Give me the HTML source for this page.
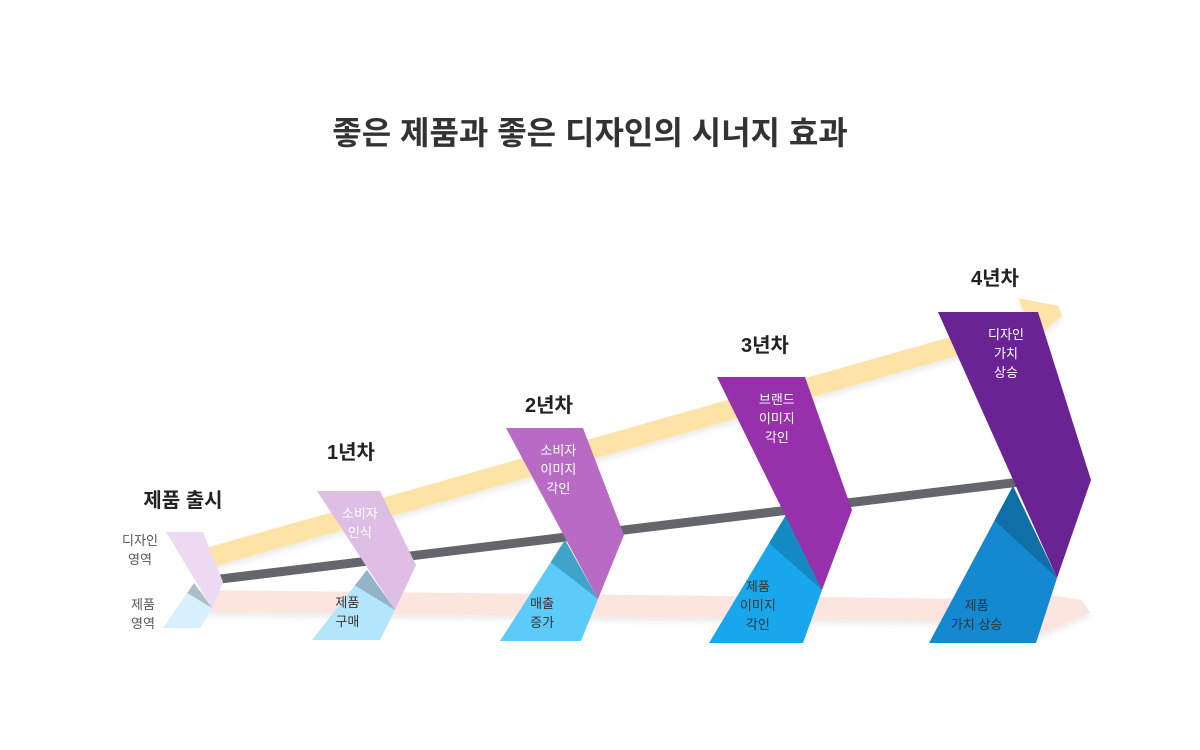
<!DOCTYPE html>
<html><head><meta charset="utf-8"><style>
body{margin:0;background:#fff;}
svg{display:block;font-family:"Liberation Sans","Noto Sans CJK KR",sans-serif;}
</style></head><body>
<svg id="c" width="1200" height="750" viewBox="0 0 1200 750">
<defs><filter id="sh" x="-10%" y="-50%" width="120%" height="200%"><feDropShadow dx="0" dy="4" stdDeviation="3" flood-color="#000" flood-opacity="0.08"/></filter></defs>
<text x="590" y="144" text-anchor="middle" font-size="32" font-weight="bold" fill="#333">좋은 제품과 좋은 디자인의 시너지 효과</text>
<g filter="url(#sh)">
<path d="M200,560 L1040,322" stroke="#fde3a6" stroke-width="20" stroke-linecap="round" fill="none"/>
<polygon points="1018,298 1058,306 1062,316 1035,338" fill="#fde3a6"/>
<path d="M205,601 L1060,611" stroke="#fde5df" stroke-width="22" stroke-linecap="round" fill="none"/>
<polygon points="1020,590 1082,600 1090,613 1025,640" fill="#fde5df"/>
</g>
<path d="M212,580 L1020,482" stroke="#63666a" stroke-width="9" fill="none"/>
<g id="stages"></g>
<text x="140" y="545" text-anchor="middle" font-size="13" fill="#555"><tspan x="140">디자인</tspan><tspan x="140" dy="19">영역</tspan></text>
<text x="143" y="609" text-anchor="middle" font-size="13" fill="#555"><tspan x="143">제품</tspan><tspan x="143" dy="19">영역</tspan></text>
</svg>
<script>
const stageLabels=["제품 출시","1년차","2년차","3년차","4년차"];
const designTexts=[[],["소비자","인식"],["소비자","이미지","각인"],["브랜드","이미지","각인"],["디자인","가치","상승"]];
const productTexts=[[],["제품","구매"],["매출","증가"],["제품","이미지","각인"],["제품","가치 상승"]];
const purpleColors=["#ecdaf2","#dfbee6","#b86bc4","#9630ab","#6a2393"];
const blueColors=["#d8f0fb","#b4e6fb","#5ccbfa","#18a7ec","#1489d0"];
const darkColors=["#a9bfca","#93b4c6","#42a3c9","#1489c2","#0f6fa6"];
// shape geometry: [topL, topR, topY, rightX, rightY, botX, botY, blueBL, blueBR, blueBY, vX, vY]
const geo=[
 [166,203,532,223,582,212,608,163,200,628,194,583],
 [317,380,491,416,565,395,610,312,380,640,367,570],
 [506,583,428,624,535,598,599,500,581,641,565,540],
 [717,805,377,852,510,822,590,709,803,643,786,515],
 [938,1038,312,1091,480,1057,578,929,1036,643,1013,486]];
const labelPos=[[183,507],[351,459],[549,412],[765,352],[995,285]];
const NS="http://www.w3.org/2000/svg";
const g=document.getElementById('stages');
function mk(t,a){const e=document.createElementNS(NS,t);for(const k in a)e.setAttribute(k,a[k]);return e;}
geo.forEach((s,i)=>{
 const [tl,tr,ty,rx,ry,bx,by,bl,br,bby,vx,vy]=s;
 const blue=mk('polygon',{points:`${bl},${bby} ${vx},${vy} ${bx},${by} ${br},${bby}`,fill:blueColors[i]});
 
 
 g.appendChild(blue);
 const t=(vy-ty)/(by-ty);
 const dx=vx-(tl+(bx-tl)*0.0);
 const ex=vx-(vx-bl)*0.22, ey=vy+(bby-vy)*0.22;
 const dark=mk('polygon',{points:`${vx},${vy} ${bx},${by} ${ex},${ey}`,fill:darkColors[i]});
 
 
 g.appendChild(dark);
 const pur=mk('polygon',{points:`${tl},${ty} ${tr},${ty} ${rx},${ry} ${bx},${by}`,fill:purpleColors[i]});
 
 
 g.appendChild(pur);
 const lab=mk('text',{x:labelPos[i][0],y:labelPos[i][1],'text-anchor':'middle','font-size':20,'font-weight':'bold',fill:'#222'});
 lab.textContent=stageLabels[i];
 
 
 g.appendChild(lab);
 const cx=(tl+tr)/2+ (i==0?0:(tr-tl)*0.18);
 designTexts[i].forEach((w,j)=>{
  const e=mk('text',{x:cx,y:ty+27+j*19,'text-anchor':'middle','font-size':13,fill:'#fff'});
  e.textContent=w;
  
  
  g.appendChild(e);
 });
 const n=productTexts[i].length;
 const px=(bl+br)/2+ (br-bl)*0.02;
 productTexts[i].forEach((w,j)=>{
  const e=mk('text',{x:px+ (i==4?-8:0),y:bby-14-(n-1-j)*19,'text-anchor':'middle','font-size':13,fill:'#333'});
  e.textContent=w;
  
  
  g.appendChild(e);
 });
});
</script>
</body></html>
